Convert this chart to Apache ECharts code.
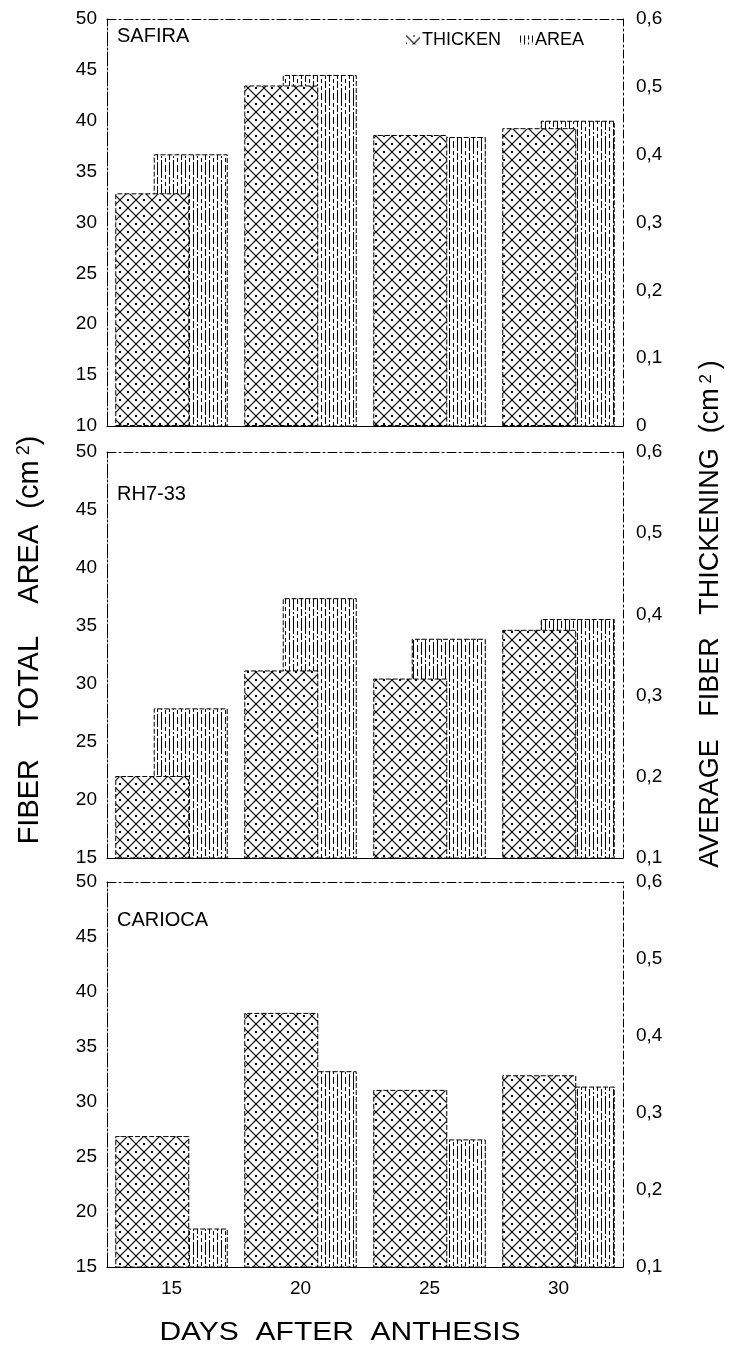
<!DOCTYPE html>
<html>
<head>
<meta charset="utf-8">
<script src="https://cdn.jsdelivr.net/npm/echarts@6/dist/echarts.min.js"></script>
<style>
html,body{margin:0;padding:0;background:#fff;}
#chart{width:731px;height:1353px;}
</style>
</head>
<body>
<div id="chart"></div>
<script>
// ---- data ----
const days = ['15', '20', '25', '30'];
const panels = ['SAFIRA', 'RH7-33', 'CARIOCA'];
// average fiber thickening (cm2), right axis
const thickenSafira = [0.343, 0.502, 0.429, 0.439];
const thickenRH733 = [0.201, 0.331, 0.321, 0.381];
const thickenCarioca = [0.270, 0.430, 0.330, 0.349];
// fiber total area (cm2), left axis
const areaSafira = [36.7, 44.5, 38.4, 40.0];
const areaRH733 = [27.9, 37.4, 33.9, 35.6];
const areaCarioca = [18.5, 32.8, 26.6, 31.4];
// axis ranges
const leftMin = [10, 15, 15];
const leftMax = [50, 50, 50];
const rightMin = [0, 0.1, 0.1];
const rightMax = [0.6, 0.6, 0.6];

const thicken = [thickenSafira, thickenRH733, thickenCarioca];
const area = [areaSafira, areaRH733, areaCarioca];

// ---- patterns ----
function crossPattern() {
  const c = document.createElement('canvas');
  c.width = 16; c.height = 16;
  const g = c.getContext('2d');
  g.fillStyle = '#fff'; g.fillRect(0, 0, 16, 16);
  g.strokeStyle = '#000'; g.lineWidth = 1.2;
  g.beginPath(); g.moveTo(0, 0); g.lineTo(16, 16); g.moveTo(16, 0); g.lineTo(0, 16); g.stroke();
  g.fillStyle = '#000';
  g.fillRect(7, -1, 2, 2); g.fillRect(7, 15, 2, 2);
  g.fillRect(-1, 7, 2, 2); g.fillRect(15, 7, 2, 2);
  return c;
}
function linePattern() {
  const c = document.createElement('canvas');
  c.width = 12; c.height = 24;
  const g = c.getContext('2d');
  g.fillStyle = '#fff'; g.fillRect(0, 0, 12, 24);
  g.strokeStyle = '#000'; g.lineWidth = 1;
  const lines = [[1.5, [7, 2]], [5.5, [10, 2, 2, 2]], [9.5, [4, 3]]];
  lines.forEach(function (l) {
    g.setLineDash(l[1]);
    g.beginPath(); g.moveTo(l[0], 0); g.lineTo(l[0], 24); g.stroke();
  });
  return c;
}
const crossFill = { image: crossPattern(), repeat: 'repeat' };
const lineFill = { image: linePattern(), repeat: 'repeat' };

const FONT = "'Liberation Sans', Arial, sans-serif";
const grids = [
  { left: 107, top: 19, width: 516, height: 407 },
  { left: 107, top: 452, width: 516, height: 406 },
  { left: 107, top: 882, width: 516, height: 385 }
];

const xAxes = [], yAxes = [], series = [];
grids.forEach(function (gr, i) {
  xAxes.push({
    type: 'category', gridIndex: i, data: days, position: 'bottom',
    axisLine: { lineStyle: { color: '#000', width: 1.2 } },
    axisTick: { show: false },
    axisLabel: { show: i === 2, color: '#000', fontSize: 19, fontFamily: FONT, margin: 12 }
  });
  xAxes.push({
    type: 'category', gridIndex: i, data: days, position: 'top',
    axisLine: { lineStyle: { color: '#000', width: 1, type: [9, 3, 2, 3] } },
    axisTick: { show: false }, axisLabel: { show: false }
  });
  yAxes.push({
    type: 'value', gridIndex: i, position: 'left',
    min: leftMin[i], max: leftMax[i], interval: 5,
    axisLine: { show: true, lineStyle: { color: '#000', width: 1, type: [14, 2, 2, 2] } },
    axisTick: { show: false }, splitLine: { show: false },
    axisLabel: { color: '#000', fontSize: 19, fontFamily: FONT, margin: 10 }
  });
  yAxes.push({
    type: 'value', gridIndex: i, position: 'right',
    min: rightMin[i], max: rightMax[i], interval: 0.1,
    axisLine: { show: true, lineStyle: { color: '#000', width: 1, type: [8, 3, 2, 3] } },
    axisTick: { show: false }, splitLine: { show: false },
    axisLabel: {
      color: '#000', fontSize: 19, fontFamily: FONT, margin: 13,
      formatter: function (v) { return Math.abs(v) < 1e-9 ? '0' : v.toFixed(1).replace('.', ','); }
    }
  });
  series.push({
    name: 'THICKEN', type: 'bar', xAxisIndex: i * 2, yAxisIndex: i * 2 + 1,
    data: thicken[i], barWidth: 74, barGap: '-48%', z: 3,
    itemStyle: { color: crossFill, borderColor: '#000', borderWidth: 1, borderType: [5, 2] }
  });
  series.push({
    name: 'AREA', type: 'bar', xAxisIndex: i * 2, yAxisIndex: i * 2,
    data: area[i], barWidth: 74, z: 2,
    itemStyle: { color: lineFill, borderColor: '#000', borderWidth: 1, borderType: [5, 2] }
  });
});

const labelTop = [26, 484, 910];
const graphics = panels.map(function (p, i) {
  return {
    type: 'text', left: 117, top: labelTop[i],
    style: { text: p, fill: '#000', font: '20px ' + FONT }
  };
});
graphics.push({
  type: 'text', x: 30, y: 640, rotation: Math.PI / 2,
  style: {
    text: '{a|FIBER    TOTAL    AREA  (cm}{s| 2}{a|)}',
    rich: {
      a: { fontSize: 29, fontFamily: FONT, fill: '#000' },
      s: { fontSize: 18, fontFamily: FONT, fill: '#000', verticalAlign: 'top', padding: [0, 0, 10, 0] }
    },
    align: 'center', verticalAlign: 'middle', textAlign: 'center', textVerticalAlign: 'middle'
  }
});
graphics.push({
  type: 'text', x: 711, y: 614, rotation: Math.PI / 2,
  style: {
    text: '{a|AVERAGE   FIBER   THICKENING  (cm}{s| 2 }{a|)}',
    rich: {
      a: { fontSize: 27, fontFamily: FONT, fill: '#000' },
      s: { fontSize: 17, fontFamily: FONT, fill: '#000', verticalAlign: 'top', padding: [0, 0, 10, 0] }
    },
    align: 'center', verticalAlign: 'middle', textAlign: 'center', textVerticalAlign: 'middle'
  }
});
graphics.push({
  type: 'text', x: 340, y: 1333, scaleX: 1.2,
  style: {
    text: 'DAYS  AFTER  ANTHESIS', fill: '#000', font: '25px ' + FONT,
    align: 'center', verticalAlign: 'middle', textAlign: 'center', textVerticalAlign: 'middle'
  }
});

const chart = echarts.init(document.getElementById('chart'), null, { renderer: 'canvas' });
chart.setOption({
  animation: false,
  backgroundColor: '#fff',
  grid: grids,
  xAxis: xAxes,
  yAxis: yAxes,
  legend: {
    data: ['THICKEN', 'AREA'], left: 401, top: 26, itemWidth: 14, itemHeight: 9, itemGap: 18,
    itemStyle: { borderWidth: 0 },
    icon: 'rect', textStyle: { color: '#000', fontSize: 18, fontFamily: FONT, padding: [0, 0, 0, -3] },
    selectedMode: false
  },
  series: series,
  graphic: graphics
});
</script>
</body>
</html>
